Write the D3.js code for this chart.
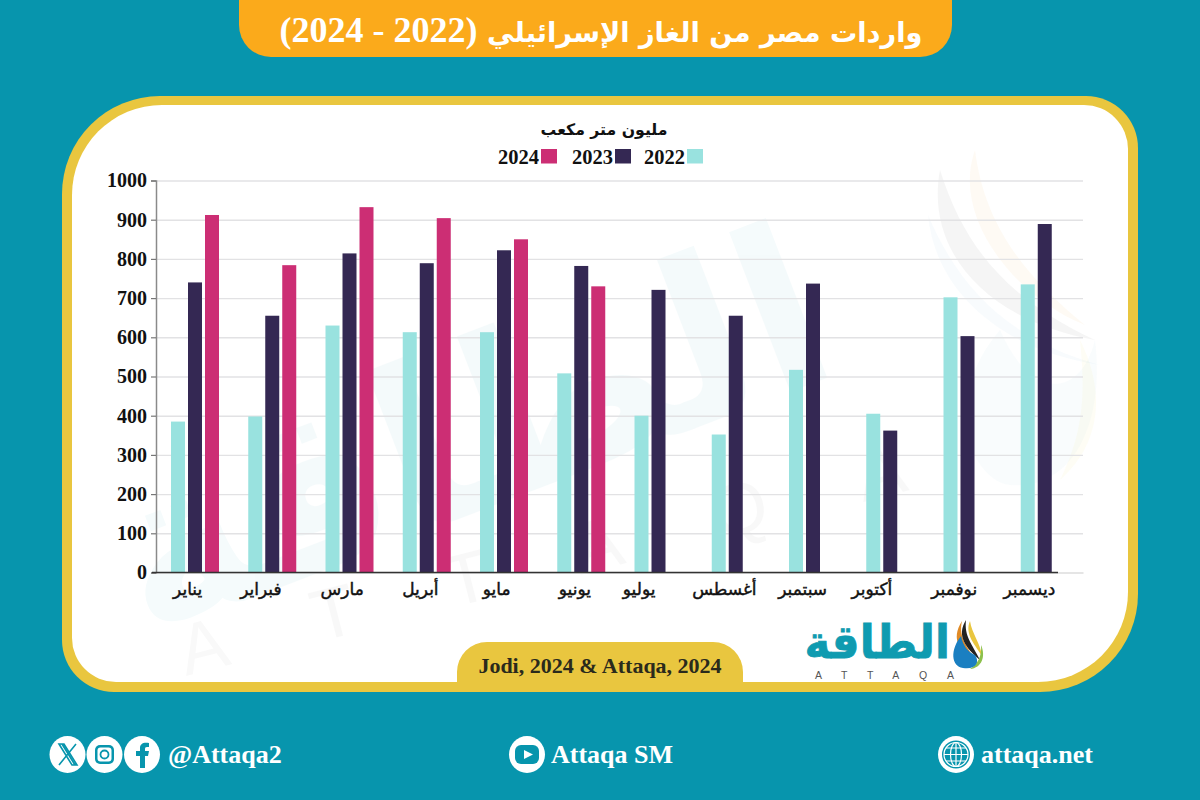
<!DOCTYPE html>
<html><head><meta charset="utf-8">
<script src="https://cdn.jsdelivr.net/npm/d3@7"></script>
<style>html,body{margin:0;padding:0;background:#0795ad}svg{display:block}</style>
</head><body><svg id="c" width="1200" height="800"></svg>
<script>
const months=["يناير","فبراير","مارس","أبريل","مايو","يونيو","يوليو","أغسطس","سبتمبر","أكتوبر","نوفمبر","ديسمبر"];
const series=["2022","2023","2024"];
const values2022=[385,398,630,613,613,508,400,352,517,405,702,735];
const values2023=[740,655,814,789,822,782,721,655,737,362,603,889];
const values2024=[912,784,932,904,850,730,null,null,null,null,null,null];
const yTicks=[0,100,200,300,400,500,600,700,800,900,1000];
const titleArabic="واردات مصر من الغاز الإسرائيلي";
const titleYears="(2022 - 2024)";
const unitText="مليون متر مكعب";
const sourceText="Jodi, 2024 & Attaqa, 2024";
const brandArabic="الطاقة";
const brandLatin="ATTAQA";
const handles=["@Attaqa2","Attaqa SM","attaqa.net"];

const TEAL="#0795ad",YEL="#e9c63f",ORG="#fbaa1b",INK="#111";
const colors=d3.scaleOrdinal().domain(series).range(["#99e2df","#342853","#cc2e74"]);
const AR="'DejaVu Sans',sans-serif", SERIF="'Liberation Serif',serif";
const svg=d3.select("#c");
svg.append("rect").attr("width",1200).attr("height",800).attr("fill",TEAL);

function card(x0,y0,x1,y1,rTL,rTR,rBR,rBL){
  const p=d3.path();
  p.moveTo(x0+rTL,y0);p.lineTo(x1-rTR,y0);p.arcTo(x1,y0,x1,y0+rTR,rTR);
  p.lineTo(x1,y1-rBR);
  if(rBR)p.arcTo(x1,y1,x1-rBR,y1,rBR);
  p.lineTo(x0+rBL,y1);
  if(rBL)p.arcTo(x0,y1,x0,y1-rBL,rBL);
  p.lineTo(x0,y0+rTL);
  if(rTL)p.arcTo(x0,y0,x0+rTL,y0,rTL);
  p.closePath();
  return p.toString();
}
// header
svg.append("path").attr("d",card(239,-40,952,57,0,0,32,32)).attr("fill",ORG);
const title=svg.append("text").attr("x",601).attr("y",42).attr("text-anchor","middle").attr("direction","rtl").attr("fill","#fff").attr("font-weight",700);
title.append("tspan").attr("font-family",AR).attr("font-size",27.2).text(titleArabic+" ");
title.append("tspan").attr("font-family",SERIF).attr("font-size",36).text(titleYears);

// card
const innerCard=card(72,105,1128,682,90,44,90,44);
svg.append("path").attr("d",card(62,96,1138,692,98,52,98,52)).attr("fill",YEL);
svg.append("path").attr("d",innerCard).attr("fill","#fff");
svg.append("clipPath").attr("id","cardClip").append("path").attr("d",innerCard);

// watermark
const wm=svg.append("g").attr("pointer-events","none").attr("clip-path","url(#cardClip)");
wm.append("text").attr("transform","translate(495,505) rotate(-21)").attr("text-anchor","middle")
  .attr("font-family",AR).attr("font-weight",700).attr("font-size",225).attr("fill",TEAL).attr("opacity",0.04).text(brandArabic);
wm.append("text").attr("transform","translate(186,676) rotate(-14.4)")
  .attr("font-family","'Liberation Sans',sans-serif").attr("font-size",72).attr("letter-spacing",94).attr("fill","#000").attr("opacity",0.022).text(brandLatin);
[["M940 170C925 250 985 320 1095 340C1010 300 965 250 940 170Z","#555",0.06],
 ["M975 150C950 220 1020 300 1085 325C1030 280 985 230 975 150Z","#f5a623",0.05],
 ["M928 215C935 290 1000 350 1100 365C1010 340 960 290 928 215Z","#4aa3c8",0.04],
 ["M1000 330C940 400 970 480 1010 485C1075 490 1105 420 1095 340C1080 400 1030 400 1000 330Z","#6aa7c9",0.04],
 ["M1080 340C1110 400 1095 450 1060 480C1085 430 1085 390 1080 340Z","#f2d33c",0.05]
].forEach(([d,f,o])=>wm.append("path").attr("d",d).attr("fill",f).attr("opacity",o));

// scales
const x=d3.scaleBand().domain(months).range([156,1083]);
const inner=d3.scaleBand().domain(series).range([13.5,64.5]).paddingInner(3/17).paddingOuter(1.5/17);
const y=d3.scaleLinear().domain([0,1000]).range([572.5,180.5]);

// grid
const grid=d3.axisLeft(y).tickValues(yTicks.filter(v=>v>0)).tickSize(-(1083-156)).tickFormat("");
const gg=svg.append("g").attr("transform","translate(156,0)").call(grid);
gg.select(".domain").remove();
gg.selectAll("line").attr("stroke","#e2e2e4").attr("stroke-width",1.4);

// bars
const rows=[values2022,values2023,values2024];
series.forEach((s,i)=>{
  svg.append("g").selectAll("rect")
    .data(months.map((m,j)=>({m,v:rows[i][j]})).filter(d=>d.v!=null))
    .join("rect")
    .attr("x",d=>x(d.m)+inner(s)).attr("width",inner.bandwidth())
    .attr("y",d=>y(d.v)).attr("height",d=>y(0)-y(d.v))
    .attr("fill",colors(s));
});

// y axis
const ya=d3.axisLeft(y).tickValues(yTicks).tickSize(5).tickPadding(4).tickFormat(d3.format("d"));
const yg=svg.append("g").attr("transform","translate(156,0)").call(ya);
yg.select(".domain").attr("stroke","#8a8a8a").attr("stroke-width",1.5);
yg.selectAll("line").attr("stroke","#777").attr("stroke-width",1.2);
yg.selectAll("text").attr("font-family",SERIF).attr("font-weight",700).attr("font-size",20).attr("fill",INK);

// x axis
const xa=d3.axisBottom(x).tickSize(0).tickPadding(10);
const xg=svg.append("g").attr("transform","translate(0,572.5)").call(xa);
xg.select(".domain").attr("stroke","#dcdcdc").attr("stroke-width",1.4);
const labelDx=[-7,-11,-7,-6,-7,-6,-19,-11,-10,-18,-13,-15];
xg.selectAll(".tick text").attr("font-family",AR).attr("font-weight",400).attr("font-size",17).attr("fill",INK)
  .attr("stroke",INK).attr("stroke-width",0.45)
  .attr("dx",(d,i)=>labelDx[i]).attr("direction","rtl");
xg.append("line").attr("x1",152).attr("x2",1058).attr("stroke","#333").attr("stroke-width",1.5);

// unit + legend
svg.append("text").attr("x",604).attr("y",135).attr("text-anchor","middle").attr("direction","rtl")
  .attr("font-family",AR).attr("font-weight",700).attr("font-size",15.7).attr("fill",INK).text(unitText);
const legX=d3.scaleOrdinal().domain(series).range([687,615,541]);
const leg=svg.append("g").selectAll("g").data(series).join("g").attr("transform",s=>`translate(${legX(s)},149)`);
leg.append("rect").attr("width",16).attr("height",14.5).attr("fill",s=>colors(s));
leg.append("text").attr("x",-2).attr("y",14.5).attr("text-anchor","end").attr("font-family",SERIF)
  .attr("font-weight",700).attr("font-size",20.5).attr("fill",INK).text(s=>s);

// source badge
svg.append("path").attr("d",card(457,642,743,682,30,30,0,0)).attr("fill",YEL);
svg.append("text").attr("x",600).attr("y",673).attr("text-anchor","middle").attr("font-family",SERIF)
  .attr("font-weight",700).attr("font-size",22).attr("fill","#2a2a1c").text(sourceText);

// logo
svg.append("text").attr("transform","translate(950,658) scale(0.95,1)").attr("text-anchor","start").attr("direction","rtl")
  .attr("font-family",AR).attr("font-weight",700).attr("font-size",46).attr("fill","#0f9bb0").attr("stroke","#0f9bb0").attr("stroke-width",0.8).text(brandArabic);
svg.append("text").attr("x",815).attr("y",679).attr("font-family","'Liberation Sans',sans-serif").attr("font-size",10.5)
  .attr("letter-spacing",19.7).attr("fill","#555").text(brandLatin);
const logo=svg.append("g");
[["M962 621C950 640 960 652 978 664C968 648 958 638 962 621Z","#e08a25"],
 ["M966 620C956 636 966 648 980 660C972 644 964 636 966 620Z","#222"],
 ["M970 621C964 634 976 646 982 656C980 642 972 634 970 621Z","#e9c63f"],
 ["M981 645C986 656 982 668 970 669C978 664 982 656 981 645Z","#8cc04b"],
 ["M961 636C950 650 951 666 963 668C976 670 980 662 975 655C968 652 963 646 961 636Z","#1a7fc1"]
].forEach(([d,f])=>logo.append("path").attr("d",d).attr("fill",f));

// footer
const foot=svg.append("g");
const circles=[[67.5,"x"],[104.5,"ig"],[142,"fb"],[527,"yt"],[956,"web"]];
foot.selectAll("ellipse").data(circles).join("ellipse").attr("cx",d=>d[0]).attr("cy",754.5).attr("rx",18).attr("ry",18.5).attr("fill","#fff");
foot.append("path").attr("d","M59 744L72 765H77L64 744ZM76 744L59 765M62 744L75 765").attr("fill","none").attr("stroke",TEAL).attr("stroke-width",1.6);
foot.append("rect").attr("x",95).attr("y",745).attr("width",19).attr("height",19).attr("rx",5).attr("fill",TEAL);
foot.append("rect").attr("x",97.5).attr("y",747.5).attr("width",14).attr("height",14).attr("rx",3).attr("fill","#fff");
foot.append("circle").attr("cx",104.5).attr("cy",754.5).attr("r",4).attr("fill","none").attr("stroke",TEAL).attr("stroke-width",1.8);
foot.append("path").attr("d","M140 768V756H136V751H140V748C140 744 143 742 149 743V747C146 747 145 747 145 749V751H149L148 756H145V768Z").attr("fill",TEAL);
foot.append("rect").attr("x",515).attr("y",745).attr("width",24).attr("height",19).attr("rx",6).attr("fill",TEAL);
foot.append("path").attr("d","M524 750L533 754.5L524 759Z").attr("fill","#fff");
foot.append("circle").attr("cx",956).attr("cy",754.5).attr("r",14).attr("fill",TEAL);
foot.append("circle").attr("cx",956).attr("cy",754.5).attr("r",12).attr("fill","none").attr("stroke","#fff").attr("stroke-width",1.2);
foot.append("ellipse").attr("cx",956).attr("cy",754.5).attr("rx",5.5).attr("ry",12).attr("fill","none").attr("stroke","#fff").attr("stroke-width",1.2);
foot.append("path").attr("d","M944 754.5H968M946 748H966M946 761H966M956 742V767").attr("fill","none").attr("stroke","#fff").attr("stroke-width",1.2);
const handleX=d3.scaleOrdinal().domain(handles).range([168,551,981]);
foot.selectAll("text").data(handles).join("text").attr("x",d=>handleX(d)).attr("y",763)
  .attr("font-family",SERIF).attr("font-weight",700).attr("font-size",26).attr("fill","#fff").text(d=>d);
</script></body></html>
